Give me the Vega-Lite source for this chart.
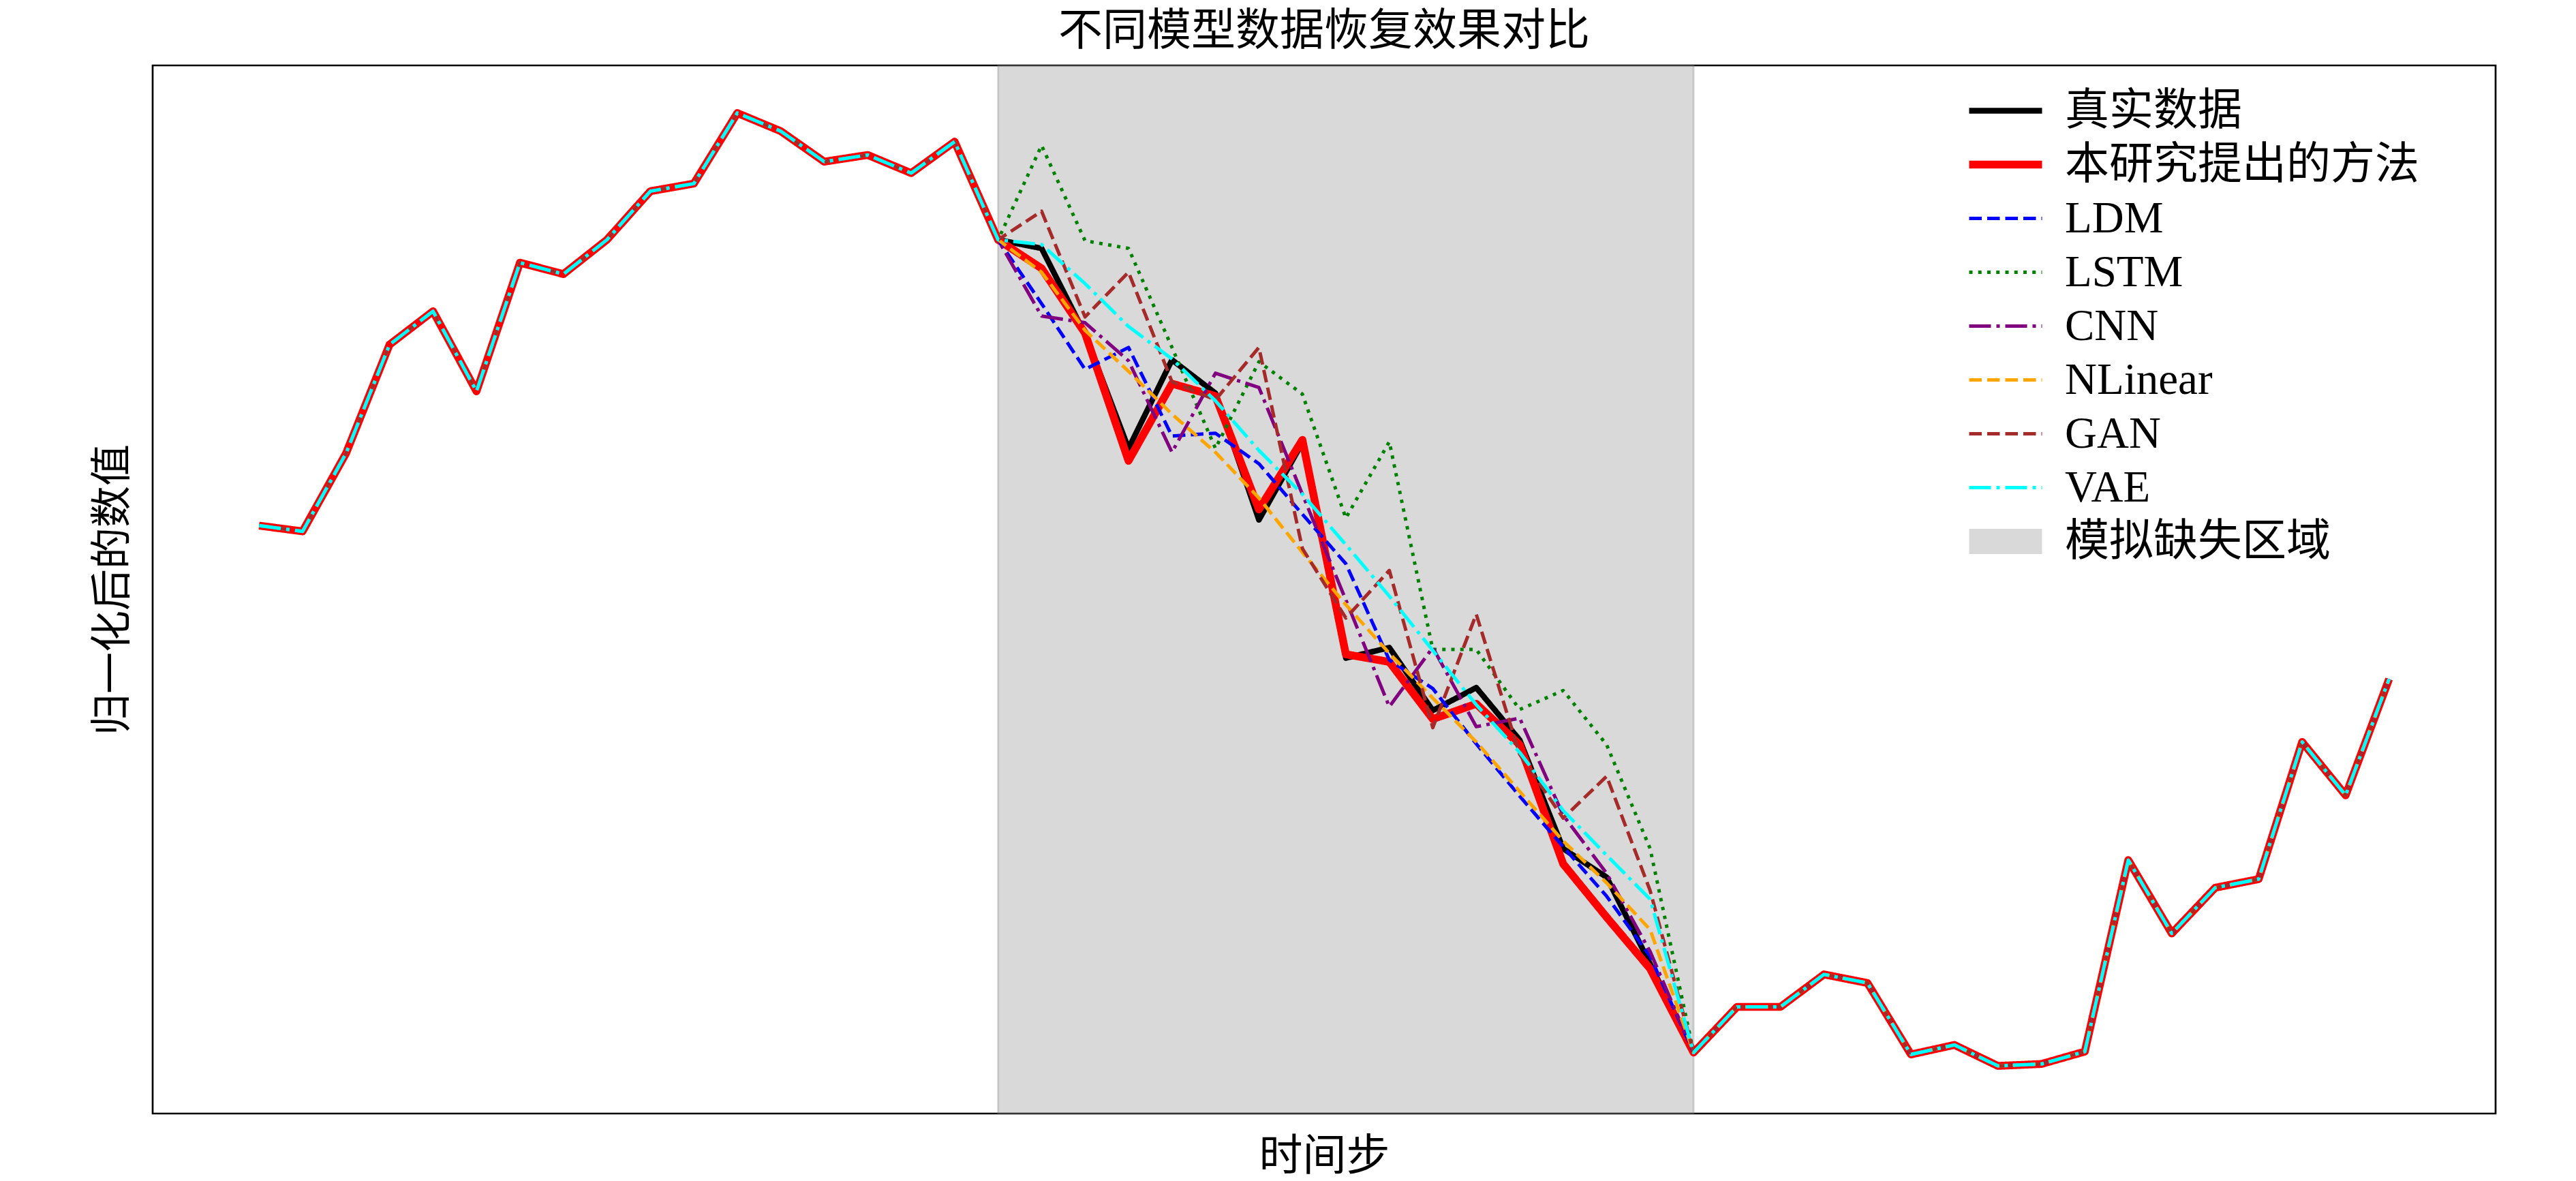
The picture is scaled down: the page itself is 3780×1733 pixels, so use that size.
{
  "$schema": "https://vega.github.io/schema/vega-lite/v6.json",
  "width": 3438,
  "height": 1538,
  "autosize": {"type": "none"},
  "padding": {"left": 224, "top": 96, "right": 118, "bottom": 99},
  "background": "white",
  "config": {
    "view": {"stroke": "black", "strokeWidth": 2.7},
    "font": "Liberation Serif, Noto Sans CJK SC"
  },
  "title": {
    "text": "不同模型数据恢复效果对比",
    "font": "Liberation Serif, Noto Sans CJK SC",
    "fontSize": 65,
    "fontWeight": "normal",
    "color": "black",
    "anchor": "middle",
    "baseline": "alphabetic",
    "offset": 35,
    "dy": 71
  },
  "datasets": {
    "series": [
      {"t": 0, "真实数据": 0.567, "本研究提出的方法": 0.567, "LDM": 0.567, "LSTM": 0.567, "CNN": 0.567, "NLinear": 0.567, "GAN": 0.567, "VAE": 0.567},
      {"t": 1, "真实数据": 0.561, "本研究提出的方法": 0.561, "LDM": 0.561, "LSTM": 0.561, "CNN": 0.561, "NLinear": 0.561, "GAN": 0.561, "VAE": 0.561},
      {"t": 2, "真实数据": 0.643, "本研究提出的方法": 0.643, "LDM": 0.643, "LSTM": 0.643, "CNN": 0.643, "NLinear": 0.643, "GAN": 0.643, "VAE": 0.643},
      {"t": 3, "真实数据": 0.757, "本研究提出的方法": 0.757, "LDM": 0.757, "LSTM": 0.757, "CNN": 0.757, "NLinear": 0.757, "GAN": 0.757, "VAE": 0.757},
      {"t": 4, "真实数据": 0.792, "本研究提出的方法": 0.792, "LDM": 0.792, "LSTM": 0.792, "CNN": 0.792, "NLinear": 0.792, "GAN": 0.792, "VAE": 0.792},
      {"t": 5, "真实数据": 0.708, "本研究提出的方法": 0.708, "LDM": 0.708, "LSTM": 0.708, "CNN": 0.708, "NLinear": 0.708, "GAN": 0.708, "VAE": 0.708},
      {"t": 6, "真实数据": 0.843, "本研究提出的方法": 0.843, "LDM": 0.843, "LSTM": 0.843, "CNN": 0.843, "NLinear": 0.843, "GAN": 0.843, "VAE": 0.843},
      {"t": 7, "真实数据": 0.831, "本研究提出的方法": 0.831, "LDM": 0.831, "LSTM": 0.831, "CNN": 0.831, "NLinear": 0.831, "GAN": 0.831, "VAE": 0.831},
      {"t": 8, "真实数据": 0.867, "本研究提出的方法": 0.867, "LDM": 0.867, "LSTM": 0.867, "CNN": 0.867, "NLinear": 0.867, "GAN": 0.867, "VAE": 0.867},
      {"t": 9, "真实数据": 0.918, "本研究提出的方法": 0.918, "LDM": 0.918, "LSTM": 0.918, "CNN": 0.918, "NLinear": 0.918, "GAN": 0.918, "VAE": 0.918},
      {"t": 10, "真实数据": 0.926, "本研究提出的方法": 0.926, "LDM": 0.926, "LSTM": 0.926, "CNN": 0.926, "NLinear": 0.926, "GAN": 0.926, "VAE": 0.926},
      {"t": 11, "真实数据": 1.0, "本研究提出的方法": 1.0, "LDM": 1.0, "LSTM": 1.0, "CNN": 1.0, "NLinear": 1.0, "GAN": 1.0, "VAE": 1.0},
      {"t": 12, "真实数据": 0.981, "本研究提出的方法": 0.981, "LDM": 0.981, "LSTM": 0.981, "CNN": 0.981, "NLinear": 0.981, "GAN": 0.981, "VAE": 0.981},
      {"t": 13, "真实数据": 0.949, "本研究提出的方法": 0.949, "LDM": 0.949, "LSTM": 0.949, "CNN": 0.949, "NLinear": 0.949, "GAN": 0.949, "VAE": 0.949},
      {"t": 14, "真实数据": 0.956, "本研究提出的方法": 0.956, "LDM": 0.956, "LSTM": 0.956, "CNN": 0.956, "NLinear": 0.956, "GAN": 0.956, "VAE": 0.956},
      {"t": 15, "真实数据": 0.937, "本研究提出的方法": 0.937, "LDM": 0.937, "LSTM": 0.937, "CNN": 0.937, "NLinear": 0.937, "GAN": 0.937, "VAE": 0.937},
      {"t": 16, "真实数据": 0.970, "本研究提出的方法": 0.970, "LDM": 0.970, "LSTM": 0.970, "CNN": 0.970, "NLinear": 0.970, "GAN": 0.970, "VAE": 0.970},
      {"t": 17, "真实数据": 0.867, "本研究提出的方法": 0.867, "LDM": 0.867, "LSTM": 0.867, "CNN": 0.867, "NLinear": 0.867, "GAN": 0.867, "VAE": 0.867},
      {"t": 18, "真实数据": 0.858, "本研究提出的方法": 0.837, "LDM": 0.800, "LSTM": 0.966, "CNN": 0.787, "NLinear": 0.833, "GAN": 0.897, "VAE": 0.862},
      {"t": 19, "真实数据": 0.768, "本研究提出的方法": 0.769, "LDM": 0.731, "LSTM": 0.866, "CNN": 0.780, "NLinear": 0.772, "GAN": 0.786, "VAE": 0.821},
      {"t": 20, "真实数据": 0.648, "本研究提出的方法": 0.635, "LDM": 0.754, "LSTM": 0.858, "CNN": 0.740, "NLinear": 0.729, "GAN": 0.833, "VAE": 0.776},
      {"t": 21, "真实数据": 0.741, "本研究提出的方法": 0.716, "LDM": 0.661, "LSTM": 0.754, "CNN": 0.644, "NLinear": 0.684, "GAN": 0.718, "VAE": 0.742},
      {"t": 22, "真实数据": 0.706, "本研究提出的方法": 0.703, "LDM": 0.664, "LSTM": 0.648, "CNN": 0.727, "NLinear": 0.644, "GAN": 0.699, "VAE": 0.698},
      {"t": 23, "真实数据": 0.573, "本研究提出的方法": 0.584, "LDM": 0.632, "LSTM": 0.739, "CNN": 0.712, "NLinear": 0.596, "GAN": 0.754, "VAE": 0.646},
      {"t": 24, "真实数据": 0.654, "本研究提出的方法": 0.657, "LDM": 0.579, "LSTM": 0.705, "CNN": 0.600, "NLinear": 0.539, "GAN": 0.543, "VAE": 0.600},
      {"t": 25, "真实数据": 0.428, "本研究提出的方法": 0.432, "LDM": 0.527, "LSTM": 0.575, "CNN": 0.489, "NLinear": 0.484, "GAN": 0.470, "VAE": 0.547},
      {"t": 26, "真实数据": 0.439, "本研究提出的方法": 0.424, "LDM": 0.426, "LSTM": 0.655, "CNN": 0.377, "NLinear": 0.433, "GAN": 0.520, "VAE": 0.493},
      {"t": 27, "真实数据": 0.373, "本研究提出的方法": 0.364, "LDM": 0.396, "LSTM": 0.437, "CNN": 0.439, "NLinear": 0.386, "GAN": 0.355, "VAE": 0.436},
      {"t": 28, "真实数据": 0.397, "本研究提出的方法": 0.380, "LDM": 0.338, "LSTM": 0.437, "CNN": 0.356, "NLinear": 0.340, "GAN": 0.474, "VAE": 0.379},
      {"t": 29, "真实数据": 0.342, "本研究提出的方法": 0.337, "LDM": 0.283, "LSTM": 0.374, "CNN": 0.365, "NLinear": 0.288, "GAN": 0.327, "VAE": 0.329},
      {"t": 30, "真实数据": 0.228, "本研究提出的方法": 0.212, "LDM": 0.230, "LSTM": 0.394, "CNN": 0.263, "NLinear": 0.236, "GAN": 0.260, "VAE": 0.268},
      {"t": 31, "真实数据": 0.198, "本研究提出的方法": 0.156, "LDM": 0.178, "LSTM": 0.337, "CNN": 0.202, "NLinear": 0.192, "GAN": 0.304, "VAE": 0.221},
      {"t": 32, "真实数据": 0.107, "本研究提出的方法": 0.102, "LDM": 0.115, "LSTM": 0.228, "CNN": 0.120, "NLinear": 0.143, "GAN": 0.184, "VAE": 0.175},
      {"t": 33, "真实数据": 0.014, "本研究提出的方法": 0.014, "LDM": 0.014, "LSTM": 0.014, "CNN": 0.014, "NLinear": 0.014, "GAN": 0.014, "VAE": 0.014},
      {"t": 34, "真实数据": 0.062, "本研究提出的方法": 0.062, "LDM": 0.062, "LSTM": 0.062, "CNN": 0.062, "NLinear": 0.062, "GAN": 0.062, "VAE": 0.062},
      {"t": 35, "真实数据": 0.062, "本研究提出的方法": 0.062, "LDM": 0.062, "LSTM": 0.062, "CNN": 0.062, "NLinear": 0.062, "GAN": 0.062, "VAE": 0.062},
      {"t": 36, "真实数据": 0.096, "本研究提出的方法": 0.096, "LDM": 0.096, "LSTM": 0.096, "CNN": 0.096, "NLinear": 0.096, "GAN": 0.096, "VAE": 0.096},
      {"t": 37, "真实数据": 0.087, "本研究提出的方法": 0.087, "LDM": 0.087, "LSTM": 0.087, "CNN": 0.087, "NLinear": 0.087, "GAN": 0.087, "VAE": 0.087},
      {"t": 38, "真实数据": 0.012, "本研究提出的方法": 0.012, "LDM": 0.012, "LSTM": 0.012, "CNN": 0.012, "NLinear": 0.012, "GAN": 0.012, "VAE": 0.012},
      {"t": 39, "真实数据": 0.022, "本研究提出的方法": 0.022, "LDM": 0.022, "LSTM": 0.022, "CNN": 0.022, "NLinear": 0.022, "GAN": 0.022, "VAE": 0.022},
      {"t": 40, "真实数据": 0.0, "本研究提出的方法": 0.0, "LDM": 0.0, "LSTM": 0.0, "CNN": 0.0, "NLinear": 0.0, "GAN": 0.0, "VAE": 0.0},
      {"t": 41, "真实数据": 0.002, "本研究提出的方法": 0.002, "LDM": 0.002, "LSTM": 0.002, "CNN": 0.002, "NLinear": 0.002, "GAN": 0.002, "VAE": 0.002},
      {"t": 42, "真实数据": 0.015, "本研究提出的方法": 0.015, "LDM": 0.015, "LSTM": 0.015, "CNN": 0.015, "NLinear": 0.015, "GAN": 0.015, "VAE": 0.015},
      {"t": 43, "真实数据": 0.216, "本研究提出的方法": 0.216, "LDM": 0.216, "LSTM": 0.216, "CNN": 0.216, "NLinear": 0.216, "GAN": 0.216, "VAE": 0.216},
      {"t": 44, "真实数据": 0.139, "本研究提出的方法": 0.139, "LDM": 0.139, "LSTM": 0.139, "CNN": 0.139, "NLinear": 0.139, "GAN": 0.139, "VAE": 0.139},
      {"t": 45, "真实数据": 0.187, "本研究提出的方法": 0.187, "LDM": 0.187, "LSTM": 0.187, "CNN": 0.187, "NLinear": 0.187, "GAN": 0.187, "VAE": 0.187},
      {"t": 46, "真实数据": 0.196, "本研究提出的方法": 0.196, "LDM": 0.196, "LSTM": 0.196, "CNN": 0.196, "NLinear": 0.196, "GAN": 0.196, "VAE": 0.196},
      {"t": 47, "真实数据": 0.340, "本研究提出的方法": 0.340, "LDM": 0.340, "LSTM": 0.340, "CNN": 0.340, "NLinear": 0.340, "GAN": 0.340, "VAE": 0.340},
      {"t": 48, "真实数据": 0.284, "本研究提出的方法": 0.284, "LDM": 0.284, "LSTM": 0.284, "CNN": 0.284, "NLinear": 0.284, "GAN": 0.284, "VAE": 0.284},
      {"t": 49, "真实数据": 0.406, "本研究提出的方法": 0.406, "LDM": 0.406, "LSTM": 0.406, "CNN": 0.406, "NLinear": 0.406, "GAN": 0.406, "VAE": 0.406}
    ]
  },
  "layer": [
    {
      "data": {"values": [{"a": 17, "b": 33}]},
      "mark": {"type": "rect", "fill": "#808080", "fillOpacity": 0.3, "stroke": "#808080", "strokeOpacity": 0.3, "strokeWidth": 3},
      "encoding": {
        "x": {"field": "a", "type": "quantitative", "scale": {"domain": [-2.45, 51.45], "nice": false, "zero": false},
              "axis": {"title": "时间步", "labels": false, "ticks": false, "domain": false, "grid": false, "titleFont": "Liberation Serif, Noto Sans CJK SC", "titleFontSize": 64, "titleFontWeight": "normal", "titleColor": "black", "titleBaseline": "alphabetic", "titlePadding": 82}},
        "x2": {"field": "b"}
      }
    },
    {
      "data": {"name": "series"},
      "transform": [{"fold": ["真实数据", "本研究提出的方法", "LDM", "LSTM", "CNN", "NLinear", "GAN", "VAE"], "as": ["s", "v"]}],
      "encoding": {
        "x": {"field": "t", "type": "quantitative", "scale": {"domain": [-2.45, 51.45], "nice": false, "zero": false},
              "axis": {"title": "时间步", "labels": false, "ticks": false, "domain": false, "grid": false, "titleFont": "Liberation Serif, Noto Sans CJK SC", "titleFontSize": 64, "titleFontWeight": "normal", "titleColor": "black", "titleBaseline": "alphabetic", "titlePadding": 82}},
        "y": {"field": "v", "type": "quantitative", "scale": {"domain": [-0.05, 1.05], "nice": false, "zero": false},
              "axis": {"title": "归一化后的数值", "labels": false, "ticks": false, "domain": false, "grid": false, "titleFont": "Liberation Serif, Noto Sans CJK SC", "titleFontSize": 61, "titleFontWeight": "normal", "titleColor": "black", "titleBaseline": "alphabetic", "titlePadding": 40}},
        "color": {"field": "s", "type": "nominal",
          "scale": {"domain": ["真实数据", "本研究提出的方法", "LDM", "LSTM", "CNN", "NLinear", "GAN", "VAE", "模拟缺失区域"],
                    "range": ["#000000", "#ff0000", "#0000ff", "#008000", "#800080", "#ffa500", "#a52a2a", "#00ffff", "#d9d9d9"]},
          "legend": {"title": null, "orient": "none", "legendX": 2647, "legendY": 27, "symbolType": "stroke", "symbolSize": 11449, "labelFont": "Liberation Serif, Noto Sans CJK SC", "labelFontSize": 65, "labelColor": "black", "labelOffset": 15, "rowPadding": 0, "clipHeight": 79, "padding": 0, "labelLimit": 0}},
        "strokeDash": {"field": "s", "type": "nominal",
          "scale": {"domain": ["真实数据", "本研究提出的方法", "LDM", "LSTM", "CNN", "NLinear", "GAN", "VAE", "模拟缺失区域"],
                    "range": [[1, 0], [1, 0], [18.5, 8], [5, 8.25], [32, 8, 5, 8], [18.5, 8], [18.5, 8], [32, 8, 5, 8], [1, 0]]},
          "legend": {"title": null, "orient": "none", "legendX": 2647, "legendY": 27, "symbolType": "stroke", "symbolSize": 11449, "labelFont": "Liberation Serif, Noto Sans CJK SC", "labelFontSize": 65, "labelColor": "black", "labelOffset": 15, "rowPadding": 0, "clipHeight": 79, "padding": 0, "labelLimit": 0}},
        "strokeWidth": {"field": "s", "type": "nominal",
          "scale": {"type": "ordinal", "domain": ["真实数据", "本研究提出的方法", "LDM", "LSTM", "CNN", "NLinear", "GAN", "VAE", "模拟缺失区域"],
                    "range": [8.3, 11.5, 5, 5, 5, 5, 5, 5, 37]},
          "legend": {"title": null, "orient": "none", "legendX": 2647, "legendY": 27, "symbolType": "stroke", "symbolSize": 11449, "labelFont": "Liberation Serif, Noto Sans CJK SC", "labelFontSize": 65, "labelColor": "black", "labelOffset": 15, "rowPadding": 0, "clipHeight": 79, "padding": 0, "labelLimit": 0}}
      },
      "layer": [
        {"transform": [{"filter": {"field": "s", "equal": "真实数据"}}], "mark": {"type": "line", "strokeJoin": "round"}},
        {"transform": [{"filter": {"field": "s", "equal": "本研究提出的方法"}}], "mark": {"type": "line", "strokeJoin": "round"}},
        {"transform": [{"filter": {"field": "s", "equal": "LDM"}}], "mark": {"type": "line", "strokeJoin": "round"}},
        {"transform": [{"filter": {"field": "s", "equal": "LSTM"}}], "mark": {"type": "line", "strokeJoin": "round"}},
        {"transform": [{"filter": {"field": "s", "equal": "CNN"}}], "mark": {"type": "line", "strokeJoin": "round"}},
        {"transform": [{"filter": {"field": "s", "equal": "NLinear"}}], "mark": {"type": "line", "strokeJoin": "round"}},
        {"transform": [{"filter": {"field": "s", "equal": "GAN"}}], "mark": {"type": "line", "strokeJoin": "round"}},
        {"transform": [{"filter": {"field": "s", "equal": "VAE"}}], "mark": {"type": "line", "strokeJoin": "round"}}
      ]
    }
  ]
}
